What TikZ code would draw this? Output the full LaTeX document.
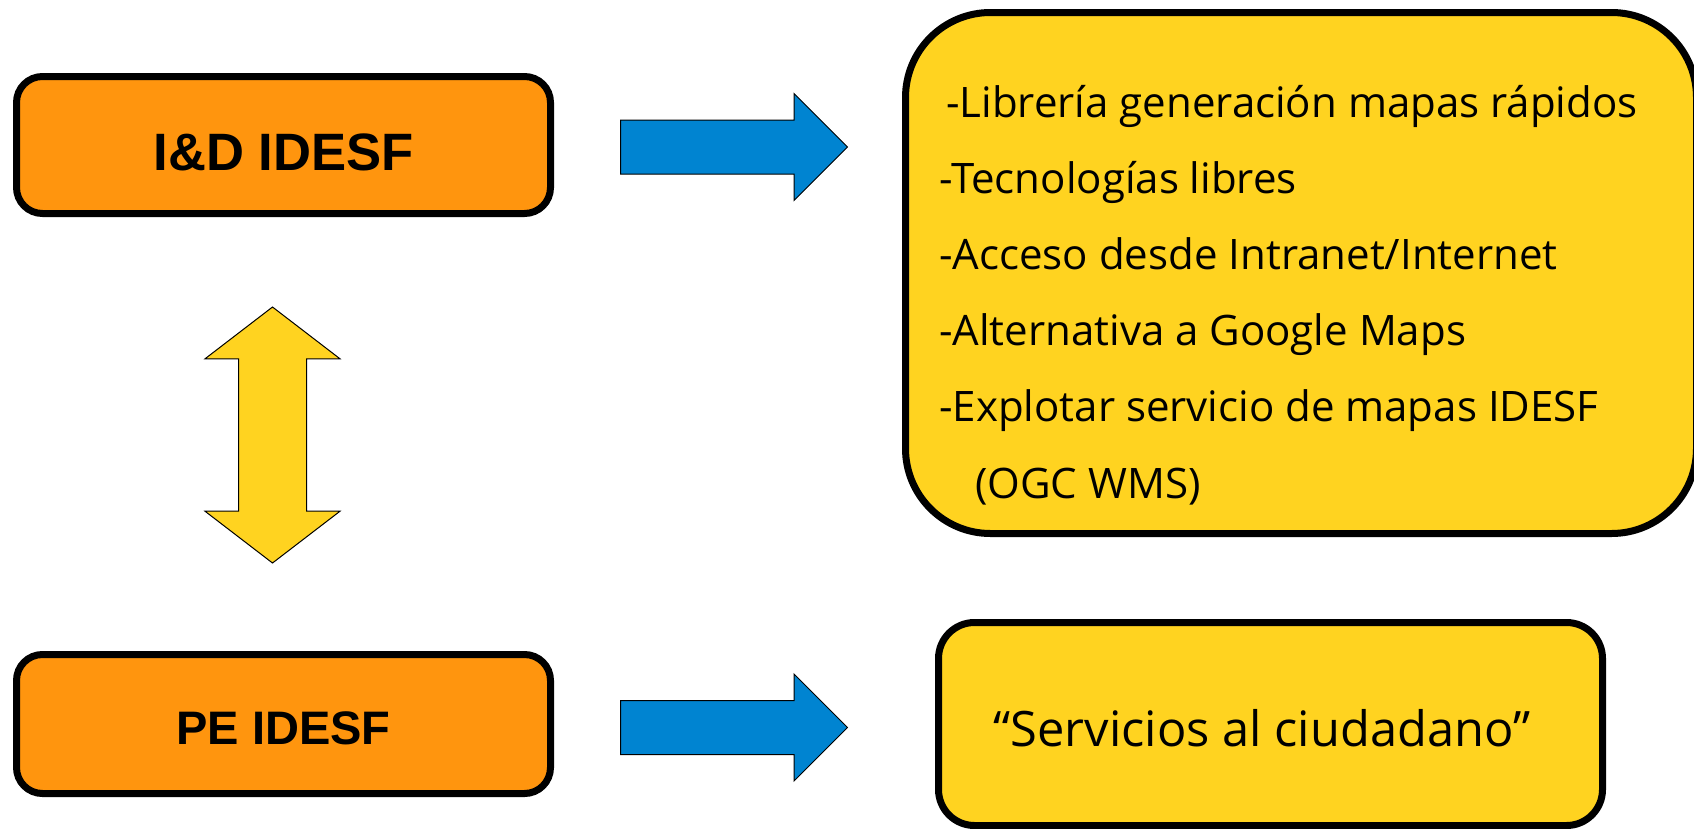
\documentclass[tikz,border=0pt]{standalone}
\usepackage{fontspec}
\setmainfont{Open Sans}
\newfontfamily\boxfont{Liberation Sans}
\usetikzlibrary{shapes.arrows}

\definecolor{idorange}{HTML}{FF950E}
\definecolor{idyellow}{HTML}{FFD320}
\definecolor{idblue}{HTML}{0084D1}

\begin{document}
\begin{tikzpicture}[x=1pt, y=-1pt,
		side_box/.style={draw=black, line width=7pt, fill=idorange, rounded corners=26pt,
			minimum width=534pt, minimum height=137pt, inner sep=0pt, text depth=0pt},
		note_box/.style={draw=black, line width=7pt, fill=idyellow, inner sep=0pt},
		item_style/.style={anchor=base west, inner sep=0pt, font=\fontsize{42}{50}\selectfont},
		blue_arrow/.style={single arrow, draw=black, line width=1pt, fill=idblue,
			inner xsep=0pt, inner ysep=26.5pt, minimum height=227pt,
			single arrow head extend=26.5pt, single arrow tip angle=90, anchor=tail}]
		
		\useasboundingbox (0,0) rectangle (1694,828);
		\clip (0,0) rectangle (1694,828);
		
		\node[side_box, text height=50pt, font=\boxfont\bfseries\fontsize{52.6}{60}\selectfont] (idi) at (283.5,145) {I\&D IDESF};
		\node[side_box, minimum height=139pt, text height=41.6pt, font=\boxfont\bfseries\fontsize{47}{55}\selectfont] (pe) at (283.5,724) {PE IDESF};
		
		\node[double arrow, draw=black, line width=1pt, fill=idyellow, rotate=90,
			inner xsep=0pt, inner ysep=33.5pt, minimum height=256pt,
			double arrow head extend=33.5pt, double arrow tip angle=105] (link) at (272.5,435) {};
		
		\node[blue_arrow] (push1) at (620,147) {};
		\node[blue_arrow] (push2) at (620,727.5) {};
		
		\node[note_box, minimum width=791pt, minimum height=521pt, rounded corners=85pt] (goals) at (1301,273) {};
		\node[item_style] (g1) at (946,117) {-Librería generación mapas rápidos};
		\node[item_style] (g2) at (939,193.2) {-Tecnologías libres};
		\node[item_style] (g3) at (939,269.4) {-Acceso desde Intranet/Internet};
		\node[item_style] (g4) at (939,345.6) {-Alternativa a Google Maps};
		\node[item_style] (g5) at (939,421.8) {-Explotar servicio de mapas IDESF};
		\node[item_style] (g6) at (975,498) {(OGC WMS)};
		
		\node[note_box, minimum width=664pt, minimum height=203pt, rounded corners=36pt] (citizens) at (1270.5,724) {};
		\node[anchor=base, inner sep=0pt, font=\fontsize{48.8}{55}\selectfont] (citizens_txt) at (1262,746) {“Servicios al ciudadano”};
		
\end{tikzpicture}
\end{document}
